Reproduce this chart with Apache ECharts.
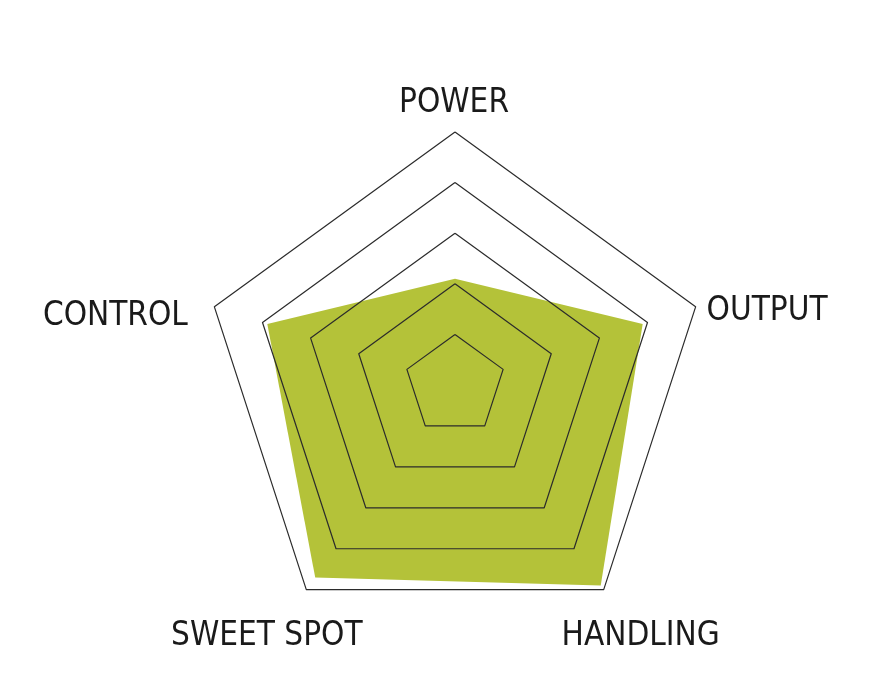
<!DOCTYPE html>
<html>
<head>
<meta charset="utf-8">
<script src="https://cdn.jsdelivr.net/npm/echarts@6/dist/echarts.min.js"></script>
<style>
html,body{margin:0;padding:0;background:#fff;}
#chart{width:896px;height:700px;}
</style>
</head>
<body>
<div id="chart"></div>
<script>
// Indicators in clockwise display order starting at the top
const indicators = ['POWER', 'OUTPUT', 'HANDLING', 'SWEET SPOT', 'CONTROL'];
const maxValue = 10;
const values = [4.2, 7.8, 9.8, 9.4, 7.8];

// ECharts radar runs counter-clockwise, so reverse all but the first
const order = [0, 4, 3, 2, 1];
const radarIndicators = order.map(i => indicators[i]);
const radarValues = order.map(i => values[i]);

// per-label padding (style only) to place names like the reference
const labelPadding = {
  'POWER':      [0, 2, 58, 0],
  'CONTROL':    [19, 198, 0, 0],
  'SWEET SPOT': [94, 79, 0, 0],
  'HANDLING':   [94, 0, 0, 74],
  'OUTPUT':     [10, 0, 0, 143]
};
const rich = {};
radarIndicators.forEach((n, i) => {
  rich['k' + i] = {
    padding: labelPadding[n],
    fontSize: 33,
    color: '#1a1a1a',
    fontFamily: '"DejaVu Sans Condensed", "Liberation Sans Narrow", sans-serif'
  };
});

const chart = echarts.init(document.getElementById('chart'));
chart.setOption({
  backgroundColor: '#ffffff',
  animation: false,
  radar: {
    center: [455, 385],
    radius: 253,
    startAngle: 90,
    splitNumber: 5,
    shape: 'polygon',
    z: 3,
    nameGap: 0,
    indicator: radarIndicators.map(n => ({ name: n, max: maxValue, min: 0 })),
    axisName: {
      align: 'center',
      verticalAlign: 'middle',
      color: '#1a1a1a',
      fontSize: 33,
      fontFamily: '"DejaVu Sans Condensed", "Liberation Sans Narrow", sans-serif',
      formatter: function (name) {
        return '{k' + radarIndicators.indexOf(name) + '|' + name + '}';
      },
      rich: rich
    },
    axisLine: { show: false },
    axisTick: { show: false },
    axisLabel: { show: false },
    splitArea: { show: false },
    splitLine: { lineStyle: { color: '#2b2b2b', width: 1.2, join: 'round' } }
  },
  series: [{
    type: 'radar',
    z: 1,
    symbol: 'none',
    lineStyle: { width: 0 },
    areaStyle: { color: '#b4c239', opacity: 1 },
    data: [{ value: radarValues, name: 'Rating' }]
  }]
});
</script>
</body>
</html>
